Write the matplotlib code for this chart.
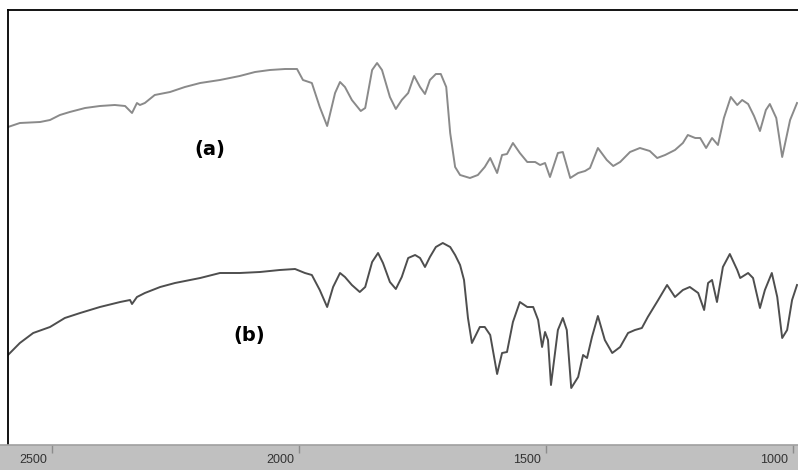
import numpy as np
from matplotlib import pyplot as plt

# wavenumber (cm-1) and transmittance (a.u.)
wn_a = [2589, 2565, 2524, 2504, 2484, 2464, 2433, 2403, 2373, 2352, 2338, 2328, 2322, 2312,
        2292, 2261, 2231, 2200, 2160, 2120, 2089, 2059, 2028, 2004, 1992, 1974, 1958, 1943,
        1927, 1917, 1907, 1893, 1875, 1866, 1852, 1842, 1832, 1816, 1804, 1792, 1779, 1767,
        1755, 1745, 1735, 1723, 1713, 1702, 1694, 1684, 1674, 1654, 1638, 1624, 1613, 1599,
        1589, 1579, 1567, 1553, 1538, 1522, 1512, 1502, 1492, 1476, 1466, 1451, 1435, 1421,
        1411, 1395, 1377, 1364, 1350, 1330, 1310, 1290, 1275, 1259, 1239, 1223, 1213, 1198,
        1188, 1176, 1164, 1152, 1140, 1126, 1113, 1103, 1091, 1079, 1067, 1055, 1047, 1034,
        1022, 1006, 992]
t_a = [318, 322, 323, 325, 330, 333, 337, 339, 340, 339, 332, 342, 340, 342,
       350, 353, 358, 362, 365, 369, 373, 375, 376, 376, 365, 362, 338, 319,
       352, 363, 358, 345, 334, 337, 375, 382, 375, 348, 336, 345, 352, 369,
       358, 351, 365, 371, 371, 358, 312, 278, 270, 267, 270, 278, 287, 272,
       290, 291, 302, 292, 283, 283, 280, 282, 268, 292, 293, 267, 272, 274,
       277, 297, 285, 279, 283, 293, 297, 294, 287, 290, 295, 302, 310, 307,
       307, 297, 307, 300, 327, 348, 340, 345, 341, 329, 314, 335, 341, 327,
       288, 325, 342]

wn_b = [2589, 2565, 2538, 2504, 2474, 2443, 2403, 2362, 2342, 2338, 2328, 2312, 2281, 2251,
        2200, 2160, 2120, 2079, 2039, 2008, 1988, 1974, 1958, 1943, 1931, 1917, 1907, 1893,
        1877, 1866, 1852, 1840, 1830, 1816, 1804, 1792, 1779, 1765, 1755, 1745, 1735, 1723,
        1709, 1694, 1684, 1674, 1666, 1658, 1650, 1634, 1624, 1613, 1599, 1589, 1579, 1567,
        1553, 1538, 1526, 1516, 1508, 1502, 1496, 1490, 1476, 1466, 1458, 1449, 1435, 1425,
        1417, 1407, 1395, 1381, 1366, 1350, 1334, 1320, 1306, 1294, 1273, 1255, 1239, 1223,
        1209, 1192, 1180, 1172, 1164, 1154, 1142, 1128, 1113, 1107, 1091, 1081, 1067, 1057,
        1043, 1032, 1022, 1012, 1002, 992]
t_b = [90, 102, 112, 118, 127, 132, 138, 143, 145, 141, 148, 152, 158, 162,
       167, 172, 172, 173, 175, 176, 172, 170, 155, 138, 158, 172, 168, 160,
       153, 158, 183, 192, 182, 163, 156, 168, 187, 190, 187, 178, 188, 198,
       202, 198, 190, 180, 165, 127, 102, 118, 118, 110, 71, 92, 93, 123,
       143, 138, 138, 125, 98, 113, 105, 60, 115, 127, 115, 57, 68, 90,
       87, 108, 129, 105, 92, 98, 112, 115, 117, 128, 145, 160, 148, 155,
       158, 152, 135, 162, 165, 143, 178, 191, 175, 167, 172, 167, 137, 155,
       172, 148, 107, 115, 145, 160]

ticks = [2500, 2000, 1500, 1000]
labels = ["(a)", "(b)"]

fig = plt.figure(figsize=(7.98, 4.70), dpi=100)

ax = fig.add_axes([8 / 798, 25 / 470, 790 / 798, 435 / 470])
ax.plot(wn_a, t_a, color='#8a8a8a', lw=1.4)
ax.plot(wn_b, t_b, color='#4e4e4e', lw=1.4)
ax.set_xlim(2589, 990)
ax.set_ylim(0, 435)
ax.set_xticks([])
ax.set_yticks([])
ax.spines['right'].set_visible(False)
ax.spines['bottom'].set_visible(False)
ax.spines['left'].set_linewidth(1.3)
ax.spines['top'].set_linewidth(1.3)

ax.text(2180, 295, labels[0], fontsize=14, fontweight='bold', ha='center', va='center')
ax.text(2101, 109, labels[1], fontsize=14, fontweight='bold', ha='center', va='center')

# gray scale band at the bottom
bx = fig.add_axes([0, 0, 1, 25 / 470])
bx.set_facecolor('#c0c0c0')
bx.set_xlim(2589 + 8 * 500 / 247, 990)
bx.set_ylim(0, 25)
for s in ['left', 'right', 'bottom']:
    bx.spines[s].set_visible(False)
bx.spines['top'].set_color('#a0a0a0')
bx.spines['top'].set_linewidth(1.2)
bx.set_yticks([])
bx.xaxis.tick_top()
bx.set_xticks(ticks)
bx.tick_params(axis='x', direction='in', length=6, width=1, color='#8c8c8c', labeltop=False)
for t in ticks:
    bx.text(t + 5 * 500 / 247, 10, str(t), ha='right', va='center',
            fontsize=9, family='Liberation Sans', color='#333333')

fig.savefig('out.png', dpi=100)
